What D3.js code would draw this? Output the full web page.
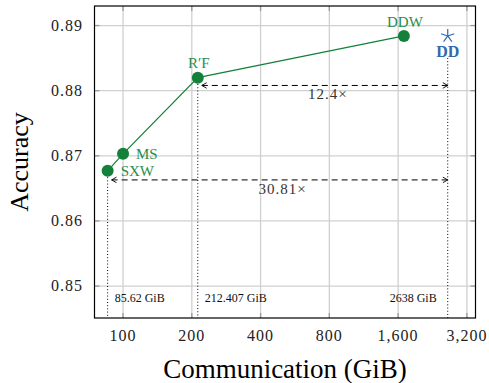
<!DOCTYPE html>
<html>
<head>
<meta charset="utf-8">
<script src="https://cdn.jsdelivr.net/npm/d3@7"></script>
<style>
  body { margin: 0; background: #fff; }
</style>
</head>
<body>
<div class="canva"></div>
<script>
// data
const methods = ["SXW", "MS", "R\u2032F", "DDW"];
const communication = [85.62, 100, 212.407, 1696];
const accuracy = [0.8677, 0.8703, 0.8820, 0.8884];
const ddPoint = { name: "DD", comm: 2638, acc: 0.8884 };
const xTicks = [100, 200, 400, 800, 1600, 3200];
const yTicks = [0.85, 0.86, 0.87, 0.88, 0.89];
const refLines = [85.62, 212.407, 2638];
const refLabels = ["85.62 GiB", "212.407 GiB", "2638 GiB"];
const speedups = [
  { from: 212.407, to: 2638, acc: 0.8808, label: "12.4\u00d7" },
  { from: 85.62, to: 2638, acc: 0.8663, label: "30.81\u00d7" }
];

const serif = "'Liberation Serif', 'Times New Roman', 'DejaVu Serif', serif";
const green = "#13813a";
const greenText = "#2b8c4b";
const blue = "#2f6aae";

const svg = d3.select(".canva").append("svg")
  .attr("width", 489)
  .attr("height", 383)
  .style("font-family", serif);

const plot = { left: 94.5, right: 475.5, top: 6, bottom: 318 };

const x = d3.scaleLog().base(2)
  .domain([75, 3490])
  .range([plot.left, plot.right]);

const y = d3.scaleLinear()
  .domain([0.8451, 0.893])
  .range([plot.bottom, plot.top]);

// grid
svg.append("g").selectAll("line")
  .data(xTicks).enter().append("line")
  .attr("x1", d => x(d)).attr("x2", d => x(d))
  .attr("y1", plot.top).attr("y2", plot.bottom)
  .attr("stroke", "#d0d0d0").attr("stroke-width", 1.3);

svg.append("g").selectAll("line")
  .data(yTicks).enter().append("line")
  .attr("x1", plot.left).attr("x2", plot.right)
  .attr("y1", d => y(d)).attr("y2", d => y(d))
  .attr("stroke", "#d0d0d0").attr("stroke-width", 1.3);

// inner ticks
const tk = svg.append("g").attr("stroke", "#9a9a9a").attr("stroke-width", 1.3);
xTicks.forEach(t => {
  tk.append("line").attr("x1", x(t)).attr("x2", x(t)).attr("y1", plot.bottom).attr("y2", plot.bottom - 5);
  tk.append("line").attr("x1", x(t)).attr("x2", x(t)).attr("y1", plot.top).attr("y2", plot.top + 5);
});
yTicks.forEach(t => {
  tk.append("line").attr("x1", plot.left).attr("x2", plot.left + 5).attr("y1", y(t)).attr("y2", y(t));
  tk.append("line").attr("x1", plot.right).attr("x2", plot.right - 5).attr("y1", y(t)).attr("y2", y(t));
});

// frame
svg.append("rect")
  .attr("x", plot.left).attr("y", plot.top)
  .attr("width", plot.right - plot.left).attr("height", plot.bottom - plot.top)
  .attr("fill", "none").attr("stroke", "#000").attr("stroke-width", 1.2);

// tick labels
svg.append("g").selectAll("text")
  .data(xTicks).enter().append("text")
  .attr("x", d => x(d)).attr("y", 341)
  .attr("text-anchor", "middle")
  .style("font-family", serif)
  .style("font-size", "16px").style("letter-spacing", "1px")
  .attr("fill", "#222")
  .text(d => d3.format(",")(d));

svg.append("g").selectAll("text")
  .data(yTicks).enter().append("text")
  .attr("x", 83).attr("y", d => y(d) + 5)
  .attr("text-anchor", "end")
  .style("font-family", serif)
  .style("font-size", "16px").style("letter-spacing", "1px")
  .attr("fill", "#222")
  .text(d => d3.format(".2f")(d));

// axis titles
svg.append("text")
  .attr("x", 285).attr("y", 378)
  .attr("text-anchor", "middle")
  .style("font-family", serif)
  .style("font-size", "27px")
  .text("Communication (GiB)");

svg.append("text")
  .attr("transform", "translate(28,162) rotate(-90)")
  .attr("text-anchor", "middle")
  .style("font-family", serif)
  .style("font-size", "26px")
  .text("Accuracy");

// dotted reference lines
const refTop = [y(accuracy[0]), y(accuracy[2]), y(ddPoint.acc) + 22];
svg.append("g").selectAll("line")
  .data(refLines).enter().append("line")
  .attr("x1", d => x(d)).attr("x2", d => x(d))
  .attr("y1", (d, i) => refTop[i]).attr("y2", plot.bottom)
  .attr("stroke", "#000").attr("stroke-width", 1)
  .attr("stroke-dasharray", "1,2.2");

svg.append("g").selectAll("text")
  .data(refLabels).enter().append("text")
  .attr("x", (d, i) => i < 2 ? x(refLines[i]) + 7 : x(refLines[i]) - 11)
  .attr("y", 302)
  .attr("text-anchor", (d, i) => i < 2 ? "start" : "end")
  .style("font-family", serif)
  .style("font-size", "12px")
  .attr("fill", "#111")
  .text(d => d);

// dashed speedup arrows
svg.append("defs").append("marker")
  .attr("id", "chev")
  .attr("viewBox", "0 0 10 10")
  .attr("refX", 9).attr("refY", 5)
  .attr("markerWidth", 7).attr("markerHeight", 7)
  .attr("markerUnits", "userSpaceOnUse")
  .attr("orient", "auto-start-reverse")
  .append("path")
  .attr("d", "M2,1 L9,5 L2,9")
  .attr("fill", "none").attr("stroke", "#000").attr("stroke-width", 1.3);

speedups.forEach(s => {
  svg.append("line")
    .attr("x1", x(s.from) + 4).attr("x2", x(s.to))
    .attr("y1", y(s.acc)).attr("y2", y(s.acc))
    .attr("stroke", "#000").attr("stroke-width", 1)
    .attr("stroke-dasharray", "6,4")
    .attr("marker-start", "url(#chev)")
    .attr("marker-end", "url(#chev)");
  svg.append("text")
    .attr("x", (x(s.from) + x(s.to)) / 2 + 5)
    .attr("y", y(s.acc) + 14)
    .attr("text-anchor", "middle")
    .style("font-family", serif)
    .style("font-size", "15px").style("letter-spacing", "1px")
    .attr("fill", "#333")
    .text(s.label);
});

// series line
const pts = communication.map((c, i) => [c, accuracy[i]]);
svg.append("path")
  .datum(pts)
  .attr("fill", "none")
  .attr("stroke", green).attr("stroke-width", 1.2)
  .attr("d", d3.line().x(d => x(d[0])).y(d => y(d[1])));

svg.append("g").selectAll("circle")
  .data(pts).enter().append("circle")
  .attr("cx", d => x(d[0])).attr("cy", d => y(d[1]))
  .attr("r", 6)
  .attr("fill", green);

// point labels
const labelPos = [
  { dx: 13, dy: 5, anchor: "start" },
  { dx: 13, dy: 5, anchor: "start" },
  { dx: 1, dy: -10, anchor: "middle" },
  { dx: 1, dy: -9, anchor: "middle" }
];
svg.append("g").selectAll("text")
  .data(pts).enter().append("text")
  .attr("x", (d, i) => x(d[0]) + labelPos[i].dx)
  .attr("y", (d, i) => y(d[1]) + labelPos[i].dy)
  .attr("text-anchor", (d, i) => labelPos[i].anchor)
  .style("font-family", serif)
  .style("font-size", "15px")
  .attr("fill", greenText)
  .text((d, i) => methods[i]);

// DD star
const sx = x(ddPoint.comm), sy = y(ddPoint.acc);
const star = d3.range(5).map(k => {
  const a = (-90 + k * 72) * Math.PI / 180;
  return `M${sx},${sy}L${sx + 7 * Math.cos(a)},${sy + 7 * Math.sin(a)}`;
}).join("");
svg.append("path")
  .attr("d", star)
  .attr("stroke", blue).attr("stroke-width", 1.2).attr("fill", "none");

svg.append("text")
  .attr("x", sx).attr("y", sy + 21)
  .attr("text-anchor", "middle")
  .style("font-family", serif)
  .style("font-size", "16px").style("font-weight", "bold")
  .attr("fill", blue)
  .text(ddPoint.name);
</script>
</body>
</html>
